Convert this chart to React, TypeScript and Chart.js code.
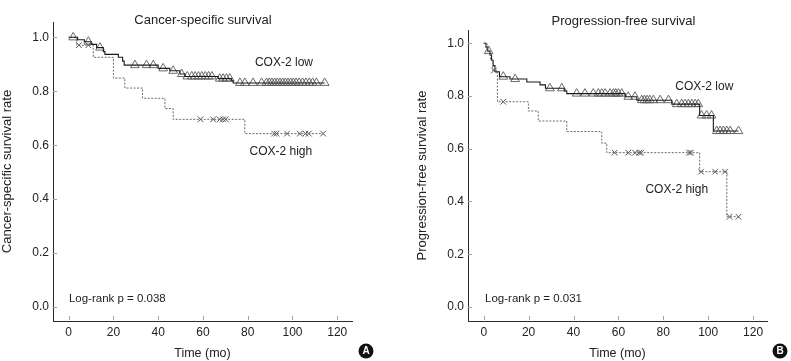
import React, { useEffect, useRef } from "react";
import { Chart, registerables } from "chart.js";

Chart.register(...registerables);

const FONT = '"Liberation Sans", Arial, Helvetica, sans-serif';

// Axis ticks (shared)
const xTicks = [0, 20, 40, 60, 80, 100, 120];
const yTicks = [0, 0.2, 0.4, 0.6, 0.8, 1.0];

// Panel A – Cancer-specific survival
const cssLowTimes = [4, 7, 10, 12.5, 15.5, 16.2, 22.2, 24.1, 24.8, 40, 45.2, 49.7, 51.9, 66.8, 72.8, 73.5];
const cssLowSurv = [0.991, 0.984, 0.974, 0.962, 0.947, 0.937, 0.926, 0.912, 0.897, 0.885, 0.876, 0.864, 0.855, 0.847, 0.839, 0.831];
const cssLowCensored = [2, 8.8, 14, 29.6, 34.8, 37.8, 42.2, 46.7, 50.5, 53, 55, 56.5, 58, 59.5, 61, 62.5, 64, 67.5, 69, 70.5, 72, 76.5, 78.7, 82.4, 86.2, 88.4, 89.6, 90.8, 92, 93.2, 94.4, 95.6, 96.8, 98, 99.2, 100.4, 101.6, 103, 104.5, 106, 107.5, 109, 110.7, 114.4];
const cssHighTimes = [3.6, 11, 20, 25.1, 33, 43, 46.7, 78.7];
const cssHighSurv = [0.971, 0.926, 0.849, 0.812, 0.774, 0.736, 0.696, 0.643];
const cssHighCensored = [4.6, 8.8, 58.9, 64.6, 67.5, 69, 70.2, 91.8, 92.9, 97.6, 103.3, 105.8, 107.3, 113.7];

// Panel B – Progression-free survival
const pfsLowTimes = [1, 1.8, 2.8, 3.5, 4.2, 5, 7, 11.7, 19.2, 25.1, 27.5, 35.9, 37, 63, 68.2, 83.8, 96.2, 102.3];
const pfsLowSurv = [0.985, 0.97, 0.955, 0.935, 0.915, 0.892, 0.873, 0.864, 0.853, 0.842, 0.829, 0.819, 0.809, 0.797, 0.784, 0.769, 0.726, 0.667];
const pfsLowCensored = [2.2, 8.7, 14, 29.5, 34.8, 41.4, 45.1, 48.8, 51.1, 52.6, 54.1, 56.3, 57.8, 58.8, 60, 61.5, 64.4, 67.4, 70.4, 71.6, 72.8, 74, 75.6, 78.6, 82.3, 86, 88.2, 89.7, 91.2, 92.7, 94.2, 95.6, 97, 99.3, 101.5, 103.8, 105.3, 106.8, 108.3, 109.8, 113.5];
const pfsHighTimes = [1.5, 3, 4, 6.1, 19.9, 24.3, 37, 52.6, 54.8, 96.2, 108.3];
const pfsHighSurv = [0.968, 0.935, 0.897, 0.778, 0.743, 0.705, 0.665, 0.621, 0.585, 0.513, 0.342];
const pfsHighCensored = [4.6, 8.7, 58.3, 64.4, 67.4, 69.3, 70.1, 91.5, 92.3, 96.8, 103.1, 107.5, 109.5, 113.5];

type Pt = { x: number; y: number };

function survAt(times: number[], surv: number[], t: number): number {
  let s = 1;
  for (let i = 0; i < times.length; i++) if (times[i] <= t) s = surv[i];
  return s;
}

function stepPoints(times: number[], surv: number[], censored: number[]): Pt[] {
  const pts: Pt[] = [{ x: 0, y: 1 }];
  times.forEach((t, i) => pts.push({ x: t, y: surv[i] }));
  const end = Math.max(times[times.length - 1], ...censored);
  pts.push({ x: end, y: surv[surv.length - 1] });
  return pts;
}

function censorPoints(times: number[], surv: number[], censored: number[]): Pt[] {
  return censored.map((t) => ({ x: t, y: survAt(times, surv, t) }));
}

type Note = { text: string; x: number; y: number; align: CanvasTextAlign; size: number };

type PanelDef = {
  width: number;
  left: number;
  padding: { left: number; top: number; right: number; bottom: number };
  xRange: [number, number];
  yRange: [number, number];
  title: string;
  titleX: number;
  titleY: number;
  yTitle: string;
  low: [number[], number[], number[]];
  high: [number[], number[], number[]];
  notes: Note[];
  badge: { letter: string; cx: number; cy: number; r: number };
};

const panels: PanelDef[] = [
  {
    width: 395,
    left: 0,
    padding: { left: 0, top: 22, right: 43, bottom: 0 },
    xRange: [-7.0, 126.6],
    yRange: [-0.052, 1.057],
    title: "Cancer-specific survival",
    titleX: 203,
    titleY: 24,
    yTitle: "Cancer-specific survival rate",
    low: [cssLowTimes, cssLowSurv, cssLowCensored],
    high: [cssHighTimes, cssHighSurv, cssHighCensored],
    notes: [
      { text: "COX-2 low", x: 96.2, y: 0.905, align: "center", size: 12 },
      { text: "COX-2 high", x: 94.8, y: 0.576, align: "center", size: 12 },
      { text: "Log-rank p = 0.038", x: 0.1, y: 0.03, align: "left", size: 11.5 },
    ],
    badge: { letter: "A", cx: 366, cy: 351, r: 7.5 },
  },
  {
    width: 396,
    left: 395,
    padding: { left: 20, top: 30, right: 24, bottom: 0 },
    xRange: [-7.0, 126.2],
    yRange: [-0.053, 1.05],
    title: "Progression-free survival",
    titleX: 228.5,
    titleY: 24.5,
    yTitle: "Progression-free survival rate",
    low: [pfsLowTimes, pfsLowSurv, pfsLowCensored],
    high: [pfsHighTimes, pfsHighSurv, pfsHighCensored],
    notes: [
      { text: "COX-2 low", x: 98.3, y: 0.837, align: "center", size: 12 },
      { text: "COX-2 high", x: 86.0, y: 0.446, align: "center", size: 12 },
      { text: "Log-rank p = 0.031", x: 0.6, y: 0.03, align: "left", size: 11.5 },
    ],
    badge: { letter: "B", cx: 385, cy: 351, r: 7.5 },
  },
];

function KMPanel({ def }: { def: PanelDef }) {
  const ref = useRef<HTMLCanvasElement>(null);

  useEffect(() => {
    const canvas = ref.current;
    if (!canvas) return;

    const decor = {
      id: "decor",
      afterDraw(chart: any) {
        const { ctx, chartArea, scales } = chart;
        const xs = scales.x;
        const ys = scales.y;
        ctx.save();
        // inward tick marks
        ctx.strokeStyle = "#a0a0a0";
        ctx.lineWidth = 1;
        ctx.beginPath();
        for (const v of yTicks) {
          const py = Math.round(ys.getPixelForValue(v)) + 0.5;
          ctx.moveTo(chartArea.left, py);
          ctx.lineTo(chartArea.left + 4, py);
        }
        for (const v of xTicks) {
          const px = Math.round(xs.getPixelForValue(v)) + 0.5;
          ctx.moveTo(px, chartArea.bottom - 1);
          ctx.lineTo(px, chartArea.bottom - 5);
        }
        ctx.stroke();

        // chart title
        ctx.fillStyle = "#222";
        ctx.font = `13px ${FONT}`;
        ctx.textAlign = "center";
        ctx.textBaseline = "alphabetic";
        ctx.fillText(def.title, def.titleX, def.titleY);

        // annotations
        ctx.textBaseline = "middle";
        for (const n of def.notes) {
          ctx.font = `${n.size}px ${FONT}`;
          ctx.textAlign = n.align;
          ctx.fillText(n.text, xs.getPixelForValue(n.x), ys.getPixelForValue(n.y));
        }

        // panel badge
        const b = def.badge;
        ctx.fillStyle = "#111";
        ctx.beginPath();
        ctx.arc(b.cx, b.cy, b.r, 0, Math.PI * 2);
        ctx.fill();
        ctx.fillStyle = "#fff";
        ctx.font = `bold 10px ${FONT}`;
        ctx.textAlign = "center";
        ctx.textBaseline = "middle";
        ctx.fillText(b.letter, b.cx, b.cy + 0.5);
        ctx.restore();
      },
    };

    const [lt, ls, lc] = def.low;
    const [ht, hs, hc] = def.high;

    const chart = new Chart(canvas, {
      type: "line",
      data: {
        datasets: [
          {
            data: stepPoints(ht, hs, hc),
            stepped: "before",
            borderColor: "#6a6a6a",
            borderWidth: 1,
            borderDash: [2, 1.5],
            pointRadius: 0,
            fill: false,
          },
          {
            data: censorPoints(ht, hs, hc),
            showLine: false,
            pointStyle: "crossRot",
            pointRadius: 4,
            pointBorderColor: "#555",
            pointBorderWidth: 1,
            pointBackgroundColor: "transparent",
          },
          {
            data: stepPoints(lt, ls, lc),
            stepped: "before",
            borderColor: "#1a1a1a",
            borderWidth: 1.1,
            pointRadius: 0,
            fill: false,
          },
          {
            data: censorPoints(lt, ls, lc),
            showLine: false,
            pointStyle: "triangle",
            pointRadius: 5,
            pointBorderColor: "#5a5a5a",
            pointBorderWidth: 0.9,
            pointBackgroundColor: "transparent",
          },
        ] as any,
      },
      options: {
        animation: false,
        responsive: false,
        devicePixelRatio: 1,
        layout: { padding: def.padding },
        plugins: {
          legend: { display: false },
          tooltip: { enabled: false },
          title: { display: false },
        },
        scales: {
          x: {
            type: "linear",
            min: def.xRange[0],
            max: def.xRange[1],
            afterBuildTicks: (s: any) => {
              s.ticks = xTicks.map((v) => ({ value: v }));
            },
            afterFit: (s: any) => {
              s.height = 40;
            },
            grid: { display: true, drawOnChartArea: false, drawTicks: false, color: "transparent" },
            border: { display: true, color: "#2a2a2a", width: 1 },
            ticks: {
              padding: 4,
              color: "#222",
              font: { family: FONT, size: 12 },
              maxRotation: 0,
              autoSkip: false,
              callback: (v: any) => String(v),
            },
            title: {
              display: true,
              text: "Time (mo)",
              color: "#222",
              font: { family: FONT, size: 12.5 },
              padding: 0,
            },
          },
          y: {
            type: "linear",
            min: def.yRange[0],
            max: def.yRange[1],
            afterBuildTicks: (s: any) => {
              s.ticks = yTicks.map((v) => ({ value: v }));
            },
            afterFit: (s: any) => {
              s.width = 53;
            },
            grid: { display: true, drawOnChartArea: false, drawTicks: false, color: "transparent" },
            border: { display: true, color: "#2a2a2a", width: 1 },
            ticks: {
              padding: 4,
              color: "#222",
              font: { family: FONT, size: 12 },
              autoSkip: false,
              callback: (v: any) => Number(v).toFixed(1),
            },
            title: {
              display: true,
              text: def.yTitle,
              color: "#222",
              font: { family: FONT, size: 13 },
              padding: 0,
            },
          },
        },
      } as any,
      plugins: [decor],
    });

    return () => chart.destroy();
  }, [def]);

  return (
    <canvas
      ref={ref}
      width={def.width}
      height={361}
      style={{ position: "absolute", left: def.left, top: 0, width: def.width, height: 361 }}
    />
  );
}

export default function App() {
  return (
    <div style={{ position: "absolute", left: 0, top: 0, width: 791, height: 361, background: "#fff", overflow: "hidden" }}>
      {panels.map((p) => (
        <KMPanel key={p.title} def={p} />
      ))}
    </div>
  );
}
